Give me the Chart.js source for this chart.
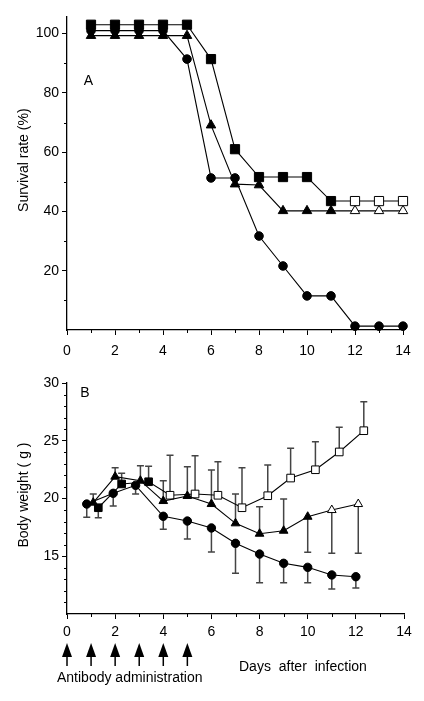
<!DOCTYPE html>
<html>
<head>
<meta charset="utf-8">
<script src="https://cdn.jsdelivr.net/npm/chart.js@4/dist/chart.umd.min.js"></script>
<style>
  body { margin: 0; background: #fff; }
  #wrap { position: relative; width: 424px; height: 701px; overflow: hidden; }
  canvas { position: absolute; left: 0; }
  #plotA { top: 0; }
  #plotB { top: 360px; }
</style>
</head>
<body>
<div id="wrap">
  <canvas id="plotA" width="424" height="372"></canvas>
  <canvas id="plotB" width="424" height="341"></canvas>
</div>
<script>
//Panel A: supervivencia (%)
let diasA = [1, 2, 3, 4, 5, 6, 7, 8, 9, 10, 11, 12, 13, 14];
let cuadradosA = [103, 103, 103, 103, 103, 91.4, 61, 51.6, 51.6, 51.6, 43.5, 43.5, 43.5, 43.5];
let triangulosA = [99.3, 99.3, 99.3, 99.3, 99.3, 69.1, 49.2, 48.9, 40.2, 40.2, 40.2, 40.2, 40.2, 40.2];
let circulosA = [101, 101, 101, 101, 91.4, 51.3, 51.3, 31.7, 21.6, 11.5, 11.5, 1.3, 1.3, 1.3];
let ticksXA = [0, 2, 4, 6, 8, 10, 12, 14];
let ticksYA = [20, 40, 60, 80, 100];

//Panel B: peso corporal (g)
let diasCirculosB = [0.82, 1.92, 2.85, 4, 5, 6, 7, 8, 9, 10, 11, 12];
let circulosB = [19.52, 20.45, 21.14, 18.46, 18.05, 17.45, 16.12, 15.19, 14.39, 14.04, 13.38, 13.23];
let errCirculosB = [18.37, 19.35, 20.39, 17.33, 16.49, 15.37, 13.52, 12.71, 12.71, 12.71, 12.16, 12.26];
let diasTriangulosB = [1.09, 2, 3.05, 4, 5, 6, 7, 8, 9, 10, 11, 12.1];
let triangulosB = [19.64, 21.89, 21.54, 19.78, 20.22, 19.52, 17.85, 16.95, 17.21, 18.42, 19.0, 19.52];
let errTriangulosB = [20.39, 22.67, 22.84, 21.54, 22.75, 22.47, 20.39, 19.29, 19.96, 15.34, 15.26, 15.26];
let diasCuadradosB = [1.3, 2.27, 3.39, 4.28, 5.32, 6.27, 7.27, 8.34, 9.29, 10.32, 11.31, 12.33];
let cuadradosB = [19.2, 21.26, 21.45, 20.28, 20.39, 20.28, 19.2, 20.24, 21.77, 22.49, 24.03, 25.87];
let errCuadradosB = [18.34, 22.18, 22.79, 23.74, 23.71, 23.19, 22.67, 22.9, 24.35, 24.92, 26.16, 28.38];
let ticksXB = [0, 2, 4, 6, 8, 10, 12, 14];
let ticksYB = [15, 20, 25, 30];
let diasAnticuerpo = [0, 1, 2, 3, 4, 5];

let zip = (xs, ys) => xs.map((x, i) => ({ x: x, y: ys[i] }));

Chart.defaults.font.family = "'Liberation Sans', Arial, sans-serif";
Chart.defaults.font.size = 14;
Chart.defaults.color = "#000";

//marcas menores de los ejes, letra del panel y título del eje Y
let marcasMenores = {
  id: "marcasMenores",
  afterDraw: (chart, args, opts) => {
    let ctx = chart.ctx;
    let area = chart.chartArea;
    ctx.save();
    ctx.strokeStyle = "#000";
    ctx.lineWidth = 1;
    ctx.beginPath();
    opts.x.forEach((v) => {
      let px = Math.round(chart.scales.x.getPixelForValue(v)) + 0.5;
      ctx.moveTo(px, area.bottom);
      ctx.lineTo(px, area.bottom + 3);
    });
    opts.y.forEach((v) => {
      let py = Math.round(chart.scales.y.getPixelForValue(v)) + 0.5;
      ctx.moveTo(area.left, py);
      ctx.lineTo(area.left - 3, py);
    });
    ctx.stroke();
    ctx.fillStyle = "#000";
    ctx.font = "14px 'Liberation Sans', Arial, sans-serif";
    ctx.textBaseline = "middle";
    ctx.fillText(
      opts.letra,
      chart.scales.x.getPixelForValue(opts.letraX),
      chart.scales.y.getPixelForValue(opts.letraY)
    );
    //título vertical
    ctx.translate(24, chart.scales.y.getPixelForValue(opts.tituloY));
    ctx.rotate(-Math.PI / 2);
    ctx.textAlign = "center";
    ctx.fillText(opts.titulo, 0, 0);
    ctx.restore();
  },
};

//barras de error (solo un lado)
let barrasError = {
  id: "barrasError",
  beforeDatasetsDraw: (chart) => {
    let ctx = chart.ctx;
    ctx.save();
    ctx.strokeStyle = "#444";
    ctx.lineWidth = 1.5;
    chart.data.datasets.forEach((ds, i) => {
      if (!ds.errores) return;
      let meta = chart.getDatasetMeta(i);
      meta.data.forEach((pt, j) => {
        let fin = chart.scales.y.getPixelForValue(ds.errores[j]);
        ctx.beginPath();
        ctx.moveTo(pt.x, pt.y);
        ctx.lineTo(pt.x, fin);
        ctx.moveTo(pt.x - 3.5, fin);
        ctx.lineTo(pt.x + 3.5, fin);
        ctx.stroke();
      });
    });
    ctx.restore();
  },
};

//flechas de administración del anticuerpo
let flechas = {
  id: "flechas",
  afterDraw: (chart) => {
    let ctx = chart.ctx;
    let base = chart.chartArea.bottom;
    ctx.save();
    ctx.fillStyle = "#000";
    ctx.strokeStyle = "#000";
    diasAnticuerpo.forEach((d) => {
      let px = chart.scales.x.getPixelForValue(d);
      ctx.beginPath();
      ctx.moveTo(px, base + 29);
      ctx.lineTo(px + 5, base + 43);
      ctx.lineTo(px - 5, base + 43);
      ctx.closePath();
      ctx.fill();
      ctx.lineWidth = 1.5;
      ctx.beginPath();
      ctx.moveTo(px, base + 42);
      ctx.lineTo(px, base + 52);
      ctx.stroke();
    });
    ctx.font = "14px 'Liberation Sans', Arial, sans-serif";
    ctx.textBaseline = "middle";
    ctx.fillText("Antibody administration", 57, base + 64);
    if ("wordSpacing" in ctx) ctx.wordSpacing = "4px";
    ctx.fillText("Days after infection", 239, base + 53);
    ctx.restore();
  },
};

let estiloSerie = (estilo, radio, rellenoHasta) => ({
  showLine: true,
  clip: false,
  borderColor: "#000",
  borderWidth: 1.1,
  pointStyle: estilo,
  pointRadius: radio,
  pointBorderColor: "#000",
  pointBorderWidth: 1,
  pointBackgroundColor: (c) =>
    c.raw && c.raw.x > rellenoHasta ? "#fff" : "#000",
});

let ejes = (minY, maxY, ticksX, ticksY, padX) => ({
  x: {
    type: "linear",
    min: 0,
    max: 14,
    afterBuildTicks: (s) => (s.ticks = ticksX.map((v) => ({ value: v }))),
    afterFit: (s) => (s.height = 28),
    grid: { drawOnChartArea: false, tickLength: 5, color: "#000" },
    border: { color: "#000", width: 1.3 },
    ticks: { padding: padX, maxRotation: 0 },
  },
  y: {
    min: minY,
    max: maxY,
    afterBuildTicks: (s) => (s.ticks = ticksY.map((v) => ({ value: v }))),
    afterFit: (s) => (s.width = 67),
    grid: { drawOnChartArea: false, tickLength: 5, color: "#000" },
    border: { color: "#000", width: 1.3 },
    ticks: { padding: 3 },
  },
});

let plotA = document.getElementById("plotA");
let chartA = new Chart(plotA, {
  type: "scatter",
  data: {
    datasets: [
      { data: zip(diasA, cuadradosA), ...estiloSerie("rect", 6.5, 11) },
      { data: zip(diasA, circulosA), ...estiloSerie("circle", 4.3, 99) },
      { data: zip(diasA, triangulosA), ...estiloSerie("triangle", 5.5, 11) },
    ],
  },
  options: {
    responsive: false,
    animation: false,
    layout: { padding: { left: 0, right: 21, top: 17, bottom: 14 } },
    plugins: {
      legend: { display: false },
      tooltip: { enabled: false },
      marcasMenores: {
        x: [1, 3, 5, 7, 9, 11, 13],
        y: [10, 30, 50, 70, 90],
        letra: "A",
        letraX: 0.7,
        letraY: 84,
        titulo: "Survival rate (%)",
        tituloY: 57.3,
      },
    },
    scales: ejes(0, 105.6, ticksXA, ticksYA, 8),
  },
  plugins: [marcasMenores],
});

let plotB = document.getElementById("plotB");
let chartB = new Chart(plotB, {
  type: "scatter",
  data: {
    datasets: [
      { data: zip(diasCirculosB, circulosB), errores: errCirculosB, ...estiloSerie("circle", 4.2, 99) },
      { data: zip(diasTriangulosB, triangulosB), errores: errTriangulosB, ...estiloSerie("triangle", 5, 10.5) },
      { data: zip(diasCuadradosB, cuadradosB), errores: errCuadradosB, ...estiloSerie("rect", 5.4, 4) },
    ],
  },
  options: {
    responsive: false,
    animation: false,
    layout: { padding: { left: 0, right: 20, top: 23, bottom: 59 } },
    plugins: {
      legend: { display: false },
      tooltip: { enabled: false },
      marcasMenores: {
        x: [1, 3, 5, 7, 9, 11, 13],
        y: [11, 12, 13, 14, 16, 17, 18, 19, 21, 22, 23, 24, 26, 27, 28, 29],
        letra: "B",
        letraX: 0.55,
        letraY: 29.1,
        titulo: "Body weight ( g )",
        tituloY: 20.3,
      },
    },
    scales: ejes(10, 30, ticksXB, ticksYB, 5),
  },
  plugins: [marcasMenores, barrasError, flechas],
});
</script>
</body>
</html>
